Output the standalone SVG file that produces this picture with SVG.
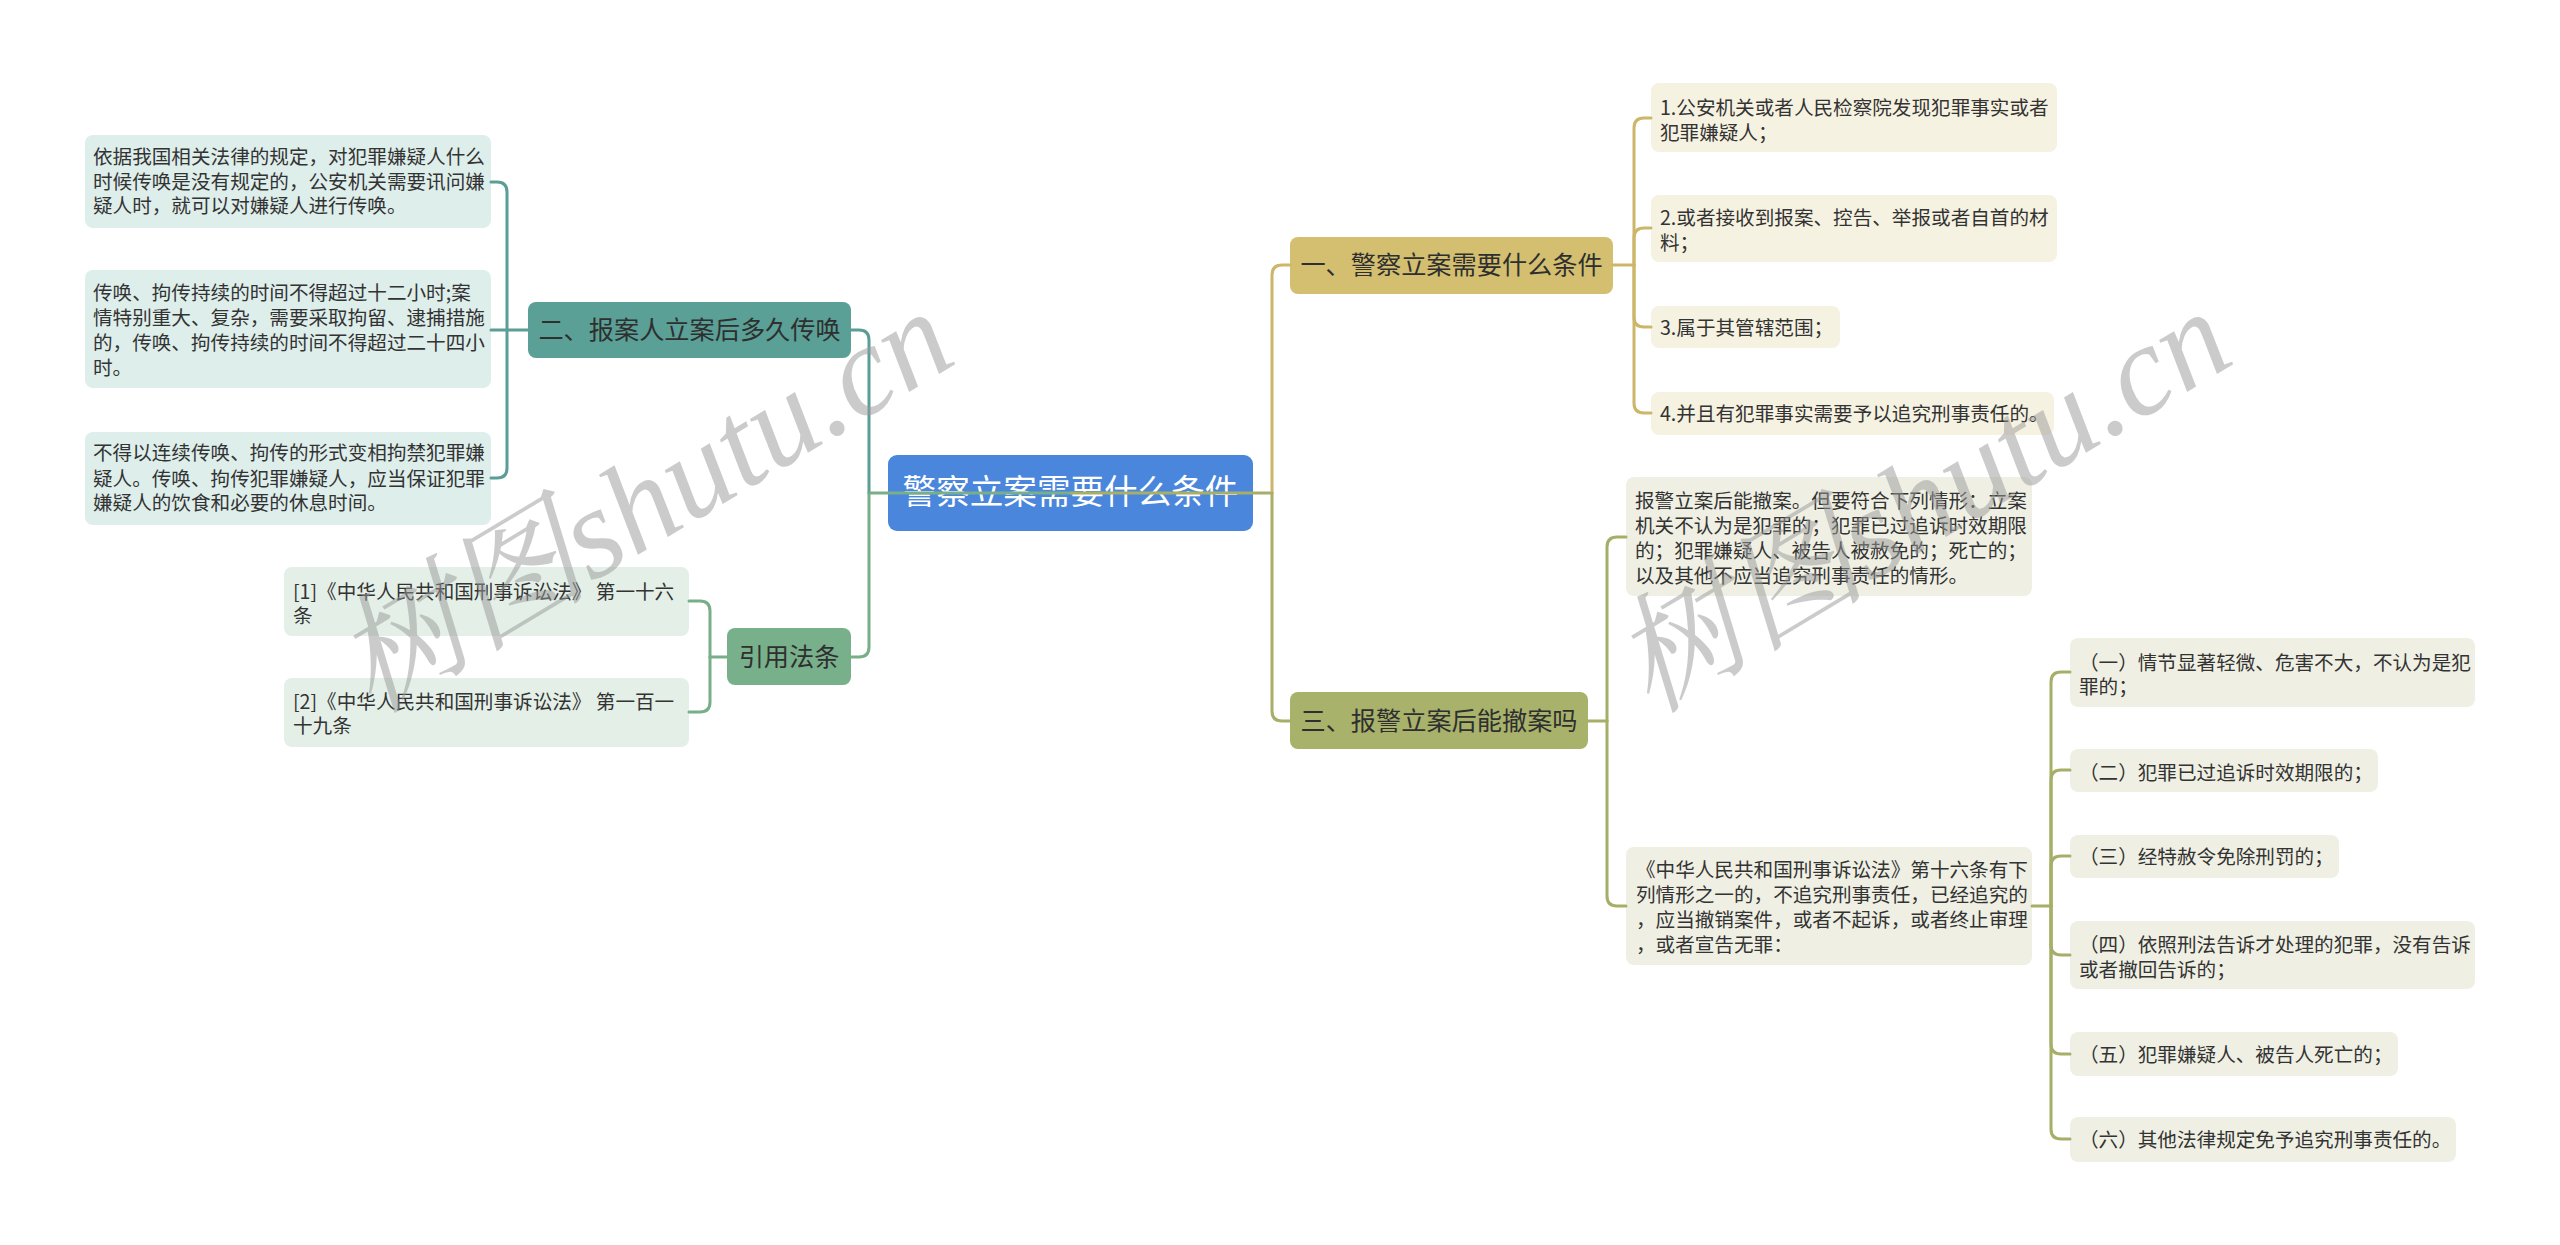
<svg xmlns="http://www.w3.org/2000/svg" width="2560" height="1245" viewBox="0 0 2560 1245">
<style>
text{font-family:"Noto Sans CJK SC","Noto Sans",sans-serif;}
.leaf{font-size:19.6px;fill:#333333;}
.lvl1{font-size:25.2px;fill:#2f2f2f;text-anchor:middle;}
.root{font-size:33.6px;fill:#ffffff;text-anchor:middle;}
.c{fill:none;stroke-width:3;stroke-linecap:round;stroke-linejoin:round;}
.teal{stroke:#5B9E95;}
.green{stroke:#78AE88;}
.gold{stroke:#CDB56A;}
.olive{stroke:#A6AE68;}
.wm{font-family:"Liberation Serif","Noto Serif CJK SC","Noto Sans CJK SC",serif;font-style:italic;font-size:128px;fill:#999999;opacity:0.5;text-anchor:middle;}
</style>
<rect width="2560" height="1245" fill="#ffffff"/>

<g id="root">
<rect x="888" y="455" width="365" height="76" rx="9" fill="#4A86DB"/>
<text class="root" x="1070.5" y="504">警察立案需要什么条件</text>
</g>

<g id="n2">
<rect x="528" y="302" width="323" height="56" rx="8" fill="#5AA097"/>
<text class="lvl1" x="689.5" y="339">二、报案人立案后多久传唤</text>
</g>
<g id="n2a">
<rect x="85" y="135" width="406" height="93" rx="8" fill="#DEEEEB"/>
<text class="leaf" x="93" y="164">依据我国相关法律的规定，对犯罪嫌疑人什么</text>
<text class="leaf" x="93" y="189">时候传唤是没有规定的，公安机关需要讯问嫌</text>
<text class="leaf" x="93" y="213">疑人时，就可以对嫌疑人进行传唤。</text>
</g>
<g id="n2b">
<rect x="85" y="270" width="406" height="118" rx="8" fill="#DEEEEB"/>
<text class="leaf" x="93" y="300">传唤、拘传持续的时间不得超过十二小时;案</text>
<text class="leaf" x="93" y="325">情特别重大、复杂，需要采取拘留、逮捕措施</text>
<text class="leaf" x="93" y="350">的，传唤、拘传持续的时间不得超过二十四小</text>
<text class="leaf" x="93" y="375">时。</text>
</g>
<g id="n2c">
<rect x="85" y="432" width="406" height="93" rx="8" fill="#DEEEEB"/>
<text class="leaf" x="93" y="460">不得以连续传唤、拘传的形式变相拘禁犯罪嫌</text>
<text class="leaf" x="93" y="486">疑人。传唤、拘传犯罪嫌疑人，应当保证犯罪</text>
<text class="leaf" x="93" y="510">嫌疑人的饮食和必要的休息时间。</text>
</g>

<g id="ref">
<rect x="727" y="628" width="124" height="57" rx="8" fill="#78B08B"/>
<text class="lvl1" x="789" y="666">引用法条</text>
</g>
<g id="ref1">
<rect x="284" y="567" width="405" height="69" rx="8" fill="#E3EFE7"/>
<text class="leaf" x="293" y="599">[1]《中华人民共和国刑事诉讼法》 第一十六</text>
<text class="leaf" x="293" y="623">条</text>
</g>
<g id="ref2">
<rect x="284" y="678" width="405" height="69" rx="8" fill="#E3EFE7"/>
<text class="leaf" x="293" y="709">[2]《中华人民共和国刑事诉讼法》 第一百一</text>
<text class="leaf" x="293" y="733">十九条</text>
</g>

<g id="n1">
<rect x="1290" y="237" width="323" height="57" rx="8" fill="#D4BF70"/>
<text class="lvl1" x="1451.5" y="274">一、警察立案需要什么条件</text>
</g>
<g id="n1a">
<rect x="1651" y="83" width="406" height="69" rx="8" fill="#F6F2E1"/>
<text class="leaf" x="1660" y="115">1.公安机关或者人民检察院发现犯罪事实或者</text>
<text class="leaf" x="1660" y="140">犯罪嫌疑人；</text>
</g>
<g id="n1b">
<rect x="1651" y="195" width="406" height="67" rx="8" fill="#F6F2E1"/>
<text class="leaf" x="1660" y="225">2.或者接收到报案、控告、举报或者自首的材</text>
<text class="leaf" x="1660" y="250">料；</text>
</g>
<g id="n1c">
<rect x="1651" y="306" width="189" height="42" rx="8" fill="#F6F2E1"/>
<text class="leaf" x="1660" y="335">3.属于其管辖范围；</text>
</g>
<g id="n1d">
<rect x="1651" y="392" width="403" height="43" rx="8" fill="#F6F2E1"/>
<text class="leaf" x="1660" y="421">4.并且有犯罪事实需要予以追究刑事责任的。</text>
</g>

<g id="n3">
<rect x="1290" y="692" width="298" height="57" rx="8" fill="#A8B26B"/>
<text class="lvl1" x="1439" y="730">三、报警立案后能撤案吗</text>
</g>
<g id="n3a">
<rect x="1626" y="477" width="406" height="119" rx="8" fill="#EFF0E3"/>
<text class="leaf" x="1635" y="508">报警立案后能撤案。但要符合下列情形：立案</text>
<text class="leaf" x="1635" y="533">机关不认为是犯罪的；犯罪已过追诉时效期限</text>
<text class="leaf" x="1635" y="558">的；犯罪嫌疑人、被告人被赦免的；死亡的；</text>
<text class="leaf" x="1635" y="583">以及其他不应当追究刑事责任的情形。</text>
</g>
<g id="n3b">
<rect x="1626" y="847" width="406" height="118" rx="8" fill="#EFF0E3"/>
<text class="leaf" x="1636" y="877">《中华人民共和国刑事诉讼法》第十六条有下</text>
<text class="leaf" x="1636" y="902">列情形之一的，不追究刑事责任，已经追究的</text>
<text class="leaf" x="1636" y="927">，应当撤销案件，或者不起诉，或者终止审理</text>
<text class="leaf" x="1636" y="952">，或者宣告无罪：</text>
</g>
<g id="c1">
<rect x="2070" y="638" width="405" height="69" rx="8" fill="#EFF0E3"/>
<text class="leaf" x="2079" y="670">（一）情节显著轻微、危害不大，不认为是犯</text>
<text class="leaf" x="2079" y="694">罪的；</text>
</g>
<g id="c2">
<rect x="2070" y="749" width="308" height="43" rx="8" fill="#EFF0E3"/>
<text class="leaf" x="2079" y="780">（二）犯罪已过追诉时效期限的；</text>
</g>
<g id="c3">
<rect x="2070" y="835" width="269" height="43" rx="8" fill="#EFF0E3"/>
<text class="leaf" x="2079" y="864">（三）经特赦令免除刑罚的；</text>
</g>
<g id="c4">
<rect x="2070" y="921" width="405" height="68" rx="8" fill="#EFF0E3"/>
<text class="leaf" x="2079" y="952">（四）依照刑法告诉才处理的犯罪，没有告诉</text>
<text class="leaf" x="2079" y="977">或者撤回告诉的；</text>
</g>
<g id="c5">
<rect x="2070" y="1032" width="328" height="44" rx="8" fill="#EFF0E3"/>
<text class="leaf" x="2079" y="1062">（五）犯罪嫌疑人、被告人死亡的；</text>
</g>
<g id="c6">
<rect x="2070" y="1117" width="386" height="45" rx="8" fill="#EFF0E3"/>
<text class="leaf" x="2079" y="1147">（六）其他法律规定免予追究刑事责任的。</text>
</g>

<g id="connectors">
<path class="c green" d="M869 493 L1071 493"/>
<path class="c olive" d="M1071 493 L1272 493"/>
<path class="c teal" d="M869 493 L869 340 Q869 330 859 330 L851 330"/>
<path class="c green" d="M869 493 L869 647 Q869 657 859 657 L851 657"/>
<path class="c gold" d="M1272 493 L1272 275 Q1272 265 1282 265 L1290 265"/>
<path class="c olive" d="M1272 493 L1272 711 Q1272 721 1282 721 L1290 721"/>

<path class="c teal" d="M528 330 L491 330"/>
<path class="c teal" d="M507 330 L507 192 Q507 182 497 182 L491 182"/>
<path class="c teal" d="M507 330 L507 468 Q507 478 497 478 L491 478"/>

<path class="c green" d="M727 657 L710 657"/>
<path class="c green" d="M710 657 L710 611 Q710 601 700 601 L689 601"/>
<path class="c green" d="M710 657 L710 702 Q710 712 700 712 L689 712"/>

<path class="c gold" d="M1613 265 L1634 265"/>
<path class="c gold" d="M1634 265 L1634 128 Q1634 118 1644 118 L1651 118"/>
<path class="c gold" d="M1634 265 L1634 238 Q1634 228 1644 228 L1651 228"/>
<path class="c gold" d="M1634 265 L1634 317 Q1634 327 1644 327 L1651 327"/>
<path class="c gold" d="M1634 265 L1634 403 Q1634 413 1644 413 L1651 413"/>

<path class="c olive" d="M1588 721 L1607 721"/>
<path class="c olive" d="M1607 721 L1607 547 Q1607 537 1617 537 L1626 537"/>
<path class="c olive" d="M1607 721 L1607 896 Q1607 906 1617 906 L1626 906"/>

<path class="c olive" d="M2032 906 L2051 906"/>
<path class="c olive" d="M2051 906 L2051 682 Q2051 672 2061 672 L2070 672"/>
<path class="c olive" d="M2051 906 L2051 780 Q2051 770 2061 770 L2070 770"/>
<path class="c olive" d="M2051 906 L2051 866 Q2051 856 2061 856 L2070 856"/>
<path class="c olive" d="M2051 906 L2051 945 Q2051 955 2061 955 L2070 955"/>
<path class="c olive" d="M2051 906 L2051 1044 Q2051 1054 2061 1054 L2070 1054"/>
<path class="c olive" d="M2051 906 L2051 1129 Q2051 1139 2061 1139 L2070 1139"/>
</g>

<g id="watermark">
<text class="wm" transform="translate(666,538) rotate(-31)">树图shutu.cn</text>
<text class="wm" transform="translate(1944,538) rotate(-31)">树图shutu.cn</text>
</g>
</svg>
